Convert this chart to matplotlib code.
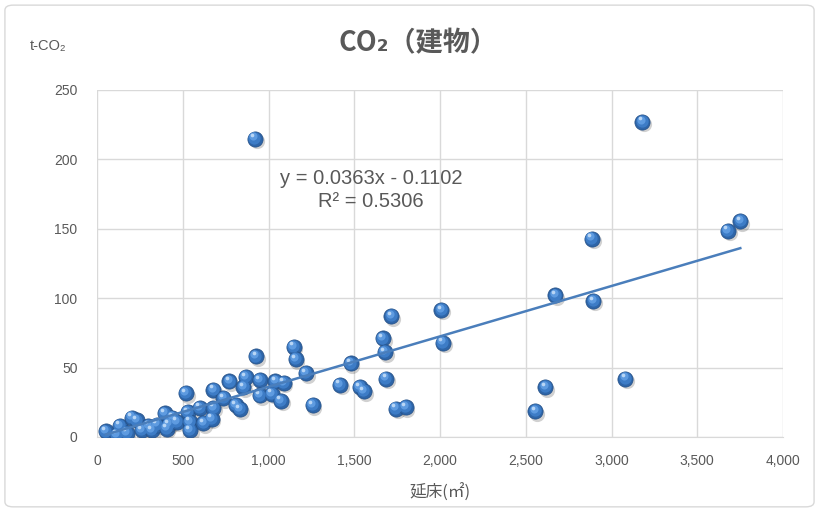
import matplotlib
matplotlib.use("Agg")
import matplotlib.pyplot as plt
import matplotlib.transforms as mtransforms
from matplotlib.patches import FancyBboxPatch
from matplotlib.ticker import FuncFormatter
import numpy as np

# ---- data ----
floor_area = [52, 115, 134, 173, 202, 231, 260, 299, 320, 350, 397, 407, 416, 440, 465,
              519, 530, 543, 543, 601, 620, 669, 678, 678, 737, 772,
              811, 834, 853, 869, 922, 928, 951, 951, 1021, 1040, 1073, 1089,
              1147, 1159, 1219, 1258, 1417, 1479, 1534, 1557, 1667, 1680, 1686,
              1717, 1744, 1800, 2007, 2017, 2556, 2615, 2672, 2886, 2894, 3081,
              3180, 3680, 3751]
co2 = [4, 1.5, 8, 3, 14, 12, 5, 8, 5, 9, 17, 6, 9, 14, 11,
       31.5, 18, 11, 5, 21, 10, 13, 21, 34, 28, 40,
       23, 20, 36, 43, 215, 58, 41, 30, 31, 40, 26, 39,
       65, 56, 46, 23, 37.5, 53, 36, 33, 71, 61, 42,
       87, 20.5, 21.5, 91.5, 68, 18.7, 36, 102, 143, 98, 42,
       227, 148.5, 155.5]
slope = 0.0363
intercept = -0.1102
r2 = 0.5306
x_ticks = [0, 500, 1000, 1500, 2000, 2500, 3000, 3500, 4000]
y_ticks = [0, 50, 100, 150, 200, 250]

title = "CO₂（建物）"
y_unit = "t-CO₂"
x_label = "延床(㎡)"

FONT = ["Noto Sans CJK JP", "DejaVu Sans"]
LATIN = ["Liberation Sans", "DejaVu Sans"]
plt.rcParams["font.family"] = FONT
GRAY = "#595959"

fig = plt.figure(figsize=(8.19, 5.13), dpi=100)
ax = fig.add_axes([97/819, 76/513, 686/819, 347/513])

# outer chart border
border = FancyBboxPatch((0.006, 0.012), 0.988, 0.978, boxstyle="round,pad=0,rounding_size=0.01",
                        transform=fig.transFigure, fill=False, edgecolor="#D9D9D9", linewidth=1.0)
fig.patches.append(border)

x = np.array(floor_area, dtype=float)
y = np.array(co2, dtype=float)

# sphere-like markers: shadow, base, then highlights
def offset(dx, dy):
    return ax.transData + mtransforms.ScaledTranslation(dx/72, dy/72, fig.dpi_scale_trans)

ax.scatter(x, y, s=120, color="#000000", alpha=0.18, linewidths=0, transform=offset(1.2, -1.8), zorder=3)
ax.scatter(x, y, s=120, color="#2E65A8", edgecolors="#244F85", linewidths=0.5, zorder=4)
ax.scatter(x, y, s=78, color="#3D7CC6", linewidths=0, transform=offset(-0.5, 0.6), zorder=5)
ax.scatter(x, y, s=34, color="#5E9BE0", linewidths=0, transform=offset(-1.2, 1.6), zorder=6)
ax.scatter(x, y, s=7, color="#B9D6F5", linewidths=0, transform=offset(-1.9, 2.5), zorder=7)

# trendline
xl = np.array([x.min(), x.max()])
ax.plot(xl, slope*xl + intercept, color="#4A7EBB", linewidth=1.8, zorder=8)

ax.set_xlim(x_ticks[0], x_ticks[-1])
ax.set_ylim(y_ticks[0], y_ticks[-1])
ax.set_xticks(x_ticks)
ax.set_yticks(y_ticks)
ax.xaxis.set_major_formatter(FuncFormatter(lambda v, p: f"{int(v):,}"))
ax.grid(True, color="#D9D9D9", linewidth=1.0)
ax.set_axisbelow(True)
for s in ["top", "right", "left"]:
    ax.spines[s].set_visible(False)
ax.spines["bottom"].set_color("#D9D9D9")
ax.tick_params(length=0, colors=GRAY, labelsize=10)
ax.tick_params(axis="x", pad=12)
ax.tick_params(axis="y", pad=14)
for lab in ax.get_xticklabels() + ax.get_yticklabels():
    lab.set_family(LATIN)

eq_sign = "-" if intercept < 0 else "+"
ax.text(1598, 178, f"y = {slope:.4f}x {eq_sign} {abs(intercept):.4f}\nR² = {r2:.4f}",
        ha="center", va="center", fontsize=14.5, color=GRAY, linespacing=1.25,
        family=LATIN, zorder=9)

fig.text(418/819, 1 - 43/513, title, ha="center", va="center", fontsize=19.5, fontweight="bold",
         color=GRAY, family=FONT)
fig.text(30/819, 1 - 46/513, y_unit, ha="left", va="center", fontsize=10.5, color=GRAY,
         family=LATIN)
fig.text(440/819, 1 - 493/513, x_label, ha="center", va="center", fontsize=12, color=GRAY, family=FONT)

fig.savefig("out.png", dpi=100)
